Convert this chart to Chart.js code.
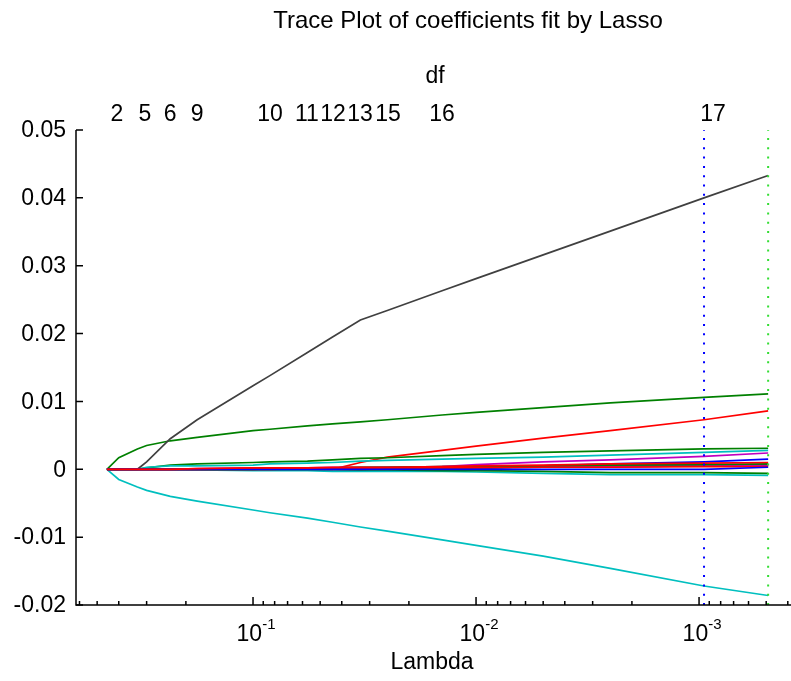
<!DOCTYPE html>
<html>
<head>
<meta charset="utf-8">
<title>Trace Plot of coefficients fit by Lasso</title>
<script src="https://cdn.jsdelivr.net/npm/chart.js@4.4.1/dist/chart.umd.min.js"></script>
<style>
  html, body { margin: 0; padding: 0; background: #fff; }
  #traceChart { display: block; }
</style>
</head>
<body>
<canvas id="traceChart" width="791" height="681"></canvas>
<script>
// lambda values along the lasso path (largest first)
const lambdas = [0.452, 0.40, 0.33, 0.30, 0.235, 0.178, 0.1, 0.084, 0.057, 0.044, 0.033, 0.025, 0.0142, 0.01, 0.005, 0.0025, 0.00095, 0.00049];

// coefficient traces, one per predictor
const coefGreenBig = [0, 0.0017, 0.0030, 0.0035, 0.0042, 0.0047, 0.0057, 0.0059, 0.0064, 0.0067, 0.0070, 0.0073, 0.0080, 0.0084, 0.0091, 0.0098, 0.0106, 0.0111];
const coefCyanBig  = [0, -0.0015, -0.0026, -0.0031, -0.0040, -0.0047, -0.0060, -0.0064, -0.0072, -0.0078, -0.0085, -0.0091, -0.0104, -0.0112, -0.0128, -0.0146, -0.0172, -0.0186];
const coefGrayBig  = [0, 0, 0, 0.0011, 0.0045, 0.0073, 0.0123, 0.0138, 0.0172, 0.0195, 0.0220, 0.0234, 0.0263, 0.0281, 0.0316, 0.0351, 0.0400, 0.0433];
const coefRedBig   = [0, 0, 0, 0, 0, 0, 0, 0, 0, 0, 0.0010, 0.0018, 0.0028, 0.0034, 0.0046, 0.0057, 0.0073, 0.0086];
const coefGreenA   = [0, 0, 0, 0.0002, 0.0006, 0.0008, 0.0010, 0.0011, 0.0012, 0.0014, 0.0016, 0.0017, 0.0020, 0.0022, 0.0025, 0.0027, 0.0030, 0.0031];
const coefCyanB    = [0, 0, 0, 0.0003, 0.0005, 0.0005, 0.0006, 0.0008, 0.0009, 0.0010, 0.0012, 0.0013, 0.0015, 0.0016, 0.0018, 0.0021, 0.0025, 0.0028];
const coefCyanNeg  = [0, 0, 0, 0, 0, -0.0001, -0.0002, -0.0002, -0.0002, -0.0003, -0.0003, -0.0003, -0.0003, -0.0004, -0.0006, -0.0008, -0.0008, -0.0009];
const coefMagentaL = [0, 0, 0, 0, 0, 0.0001, 0.0002, 0.0002, 0.0002, 0.0003, 0.0003, 0.0003, 0.0004, 0.0004, 0.0005, 0.0006, 0.0007, 0.0007];
const coefRedC     = [0, 0, 0, 0, 0, 0.0001, 0.0002, 0.0002, 0.0002, 0.0003, 0.0003, 0.0003, 0.0004, 0.0005, 0.0006, 0.0008, 0.0009, 0.0010];
const coefMagentaF = [0, 0, 0, 0, 0, 0, 0.0001, 0.0001, 0.0002, 0.0002, 0.0002, 0.0003, 0.0003, 0.0003, 0.0004, 0.0004, 0.0005, 0.0005];
const coefGreenJ   = [0, 0, 0, 0, 0, 0, 0, 0.0001, 0.0002, 0.0002, 0.0003, 0.0003, 0.0004, 0.0004, 0.0005, 0.0006, 0.0007, 0.0008];
const coefRedK     = [0, 0, 0, 0, 0, 0, 0, 0, 0.0001, 0.0001, 0.0001, 0.0002, 0.0002, 0.0002, 0.0003, 0.0003, 0.0004, 0.0004];
const coefGreenNeg = [0, 0, 0, 0, 0, 0, 0, 0, 0, 0, -0.0001, -0.0001, -0.0002, -0.0002, -0.0003, -0.0005, -0.0005, -0.0006];
const coefGrayI    = [0, 0, 0, 0, 0, 0, 0, 0, 0, 0, 0, 0.0001, 0.0001, 0.0002, 0.0003, 0.0004, 0.0005, 0.0006];
const coefMagentaD = [0, 0, 0, 0, 0, 0, 0, 0, 0, 0, 0, 0.0001, 0.0004, 0.0007, 0.0011, 0.0014, 0.0019, 0.0024];
const coefBlueE    = [0, 0, 0, 0, 0, 0, 0, 0, 0, 0, 0, 0, 0, 0.0001, 0.0005, 0.0008, 0.0011, 0.0015];
const coefBlueM    = [0, 0, 0, 0, 0, 0, 0, 0, 0, 0, 0, 0, 0, 0, 0, 0, 0, 0.0003];

// cross-validation lambdas (dotted lines)
const lambda1SE = 0.00095;
const lambdaMinMSE = 0.00049;

// degrees of freedom on the top axis
const dfLabels  = ['2', '5', '6', '9', '10', '11', '12', '13', '15', '16', '17'];
const dfLambdas = [0.408, 0.305, 0.2355, 0.178, 0.0839, 0.0573, 0.0438, 0.0331, 0.0248, 0.0142, 0.000865];

// axis ticks
const yTicks = [0.05, 0.04, 0.03, 0.02, 0.01, 0, -0.01, -0.02];
const yTickLabels = ['0.05', '0.04', '0.03', '0.02', '0.01', '0', '-0.01', '-0.02'];
const xMajorTicks = [0.1, 0.01, 0.001];
const xExponents = ['-1', '-2', '-3'];

const X_MIN = 3.87e-4, X_MAX = 0.622;
const FONT = '"Liberation Sans", Arial, sans-serif';

function trace(values, color) {
  return {
    data: lambdas.map((l, i) => ({x: l, y: values[i]})),
    borderColor: color,
    borderWidth: 1.7,
    pointRadius: 0,
    fill: false,
    tension: 0
  };
}

function vline(lambda, color) {
  return {
    data: [{x: lambda, y: -0.02}, {x: lambda, y: 0.05}],
    borderColor: color,
    borderWidth: 2,
    borderDash: [2, 7.3],
    pointRadius: 0,
    fill: false
  };
}

// draws the matlab-style axes, ticks and text
const matlabAxes = {
  id: 'matlabAxes',
  afterDraw(chart) {
    const ctx = chart.ctx;
    const xs = chart.scales.x;
    const ys = chart.scales.y;
    const area = chart.chartArea;
    ctx.save();
    ctx.strokeStyle = '#000';
    ctx.lineWidth = 1.5;

    ctx.beginPath();
    ctx.moveTo(area.left, area.top);
    ctx.lineTo(area.left, area.bottom);
    ctx.lineTo(area.right, area.bottom);
    ctx.stroke();

    // y ticks
    ctx.beginPath();
    yTicks.forEach(v => {
      const py = ys.getPixelForValue(v);
      ctx.moveTo(area.left, py);
      ctx.lineTo(area.left + 7, py);
    });
    // x ticks, major and minor
    xMajorTicks.forEach(v => {
      const px = xs.getPixelForValue(v);
      ctx.moveTo(px, area.bottom);
      ctx.lineTo(px, area.bottom - 8);
    });
    for (let d = -4; d <= -1; d++) {
      for (let m = 2; m <= 9; m++) {
        const v = m * Math.pow(10, d);
        if (v < X_MIN || v > X_MAX) continue;
        const px = xs.getPixelForValue(v);
        ctx.moveTo(px, area.bottom);
        ctx.lineTo(px, area.bottom - 4);
      }
    }
    ctx.stroke();

    ctx.fillStyle = '#000';
    ctx.font = '23px ' + FONT;

    // y tick labels
    ctx.textAlign = 'right';
    ctx.textBaseline = 'middle';
    yTicks.forEach((v, i) => {
      ctx.fillText(yTickLabels[i], area.left - 10, ys.getPixelForValue(v) + 1);
    });

    // x tick labels as 10 with exponent
    xMajorTicks.forEach((v, i) => {
      const px = xs.getPixelForValue(v);
      ctx.font = '23px ' + FONT;
      const wBase = ctx.measureText('10').width;
      ctx.font = '15px ' + FONT;
      const wExp = ctx.measureText(xExponents[i]).width;
      const left = px - (wBase + wExp) / 2 + 3;
      ctx.textAlign = 'left';
      ctx.textBaseline = 'alphabetic';
      ctx.font = '23px ' + FONT;
      ctx.fillText('10', left, 641);
      ctx.font = '15px ' + FONT;
      ctx.fillText(xExponents[i], left + wBase, 629);
    });

    ctx.font = '23px ' + FONT;
    ctx.textAlign = 'center';
    ctx.textBaseline = 'alphabetic';
    ctx.fillText('Lambda', 432, 669);

    // top axis: degrees of freedom
    dfLambdas.forEach((v, i) => {
      ctx.fillText(dfLabels[i], xs.getPixelForValue(v), 121);
    });
    ctx.fillText('df', 435, 83);
    ctx.font = '24px ' + FONT;
    ctx.fillText('Trace Plot of coefficients fit by Lasso', 468, 28);
    ctx.restore();
  }
};

const ctx = document.getElementById('traceChart').getContext('2d');
const traceChart = new Chart(ctx, {
  type: 'line',
  data: {
    datasets: [
      vline(lambda1SE, '#0000ff'),
      vline(lambdaMinMSE, '#33dd33'),
      trace(coefRedC, '#ff0000'),
      trace(coefBlueM, '#0000ff'),
      trace(coefRedK, '#ff0000'),
      trace(coefGreenJ, '#008000'),
      trace(coefMagentaF, '#bf00bf'),
      trace(coefGrayI, '#404040'),
      trace(coefGreenNeg, '#008000'),
      trace(coefCyanNeg, '#00bfbf'),
      trace(coefBlueE, '#0000ff'),
      trace(coefMagentaD, '#bf00bf'),
      trace(coefMagentaL, '#bf00bf'),
      trace(coefCyanB, '#00bfbf'),
      trace(coefGreenA, '#008000'),
      trace(coefRedBig, '#ff0000'),
      trace(coefGrayBig, '#404040'),
      trace(coefCyanBig, '#00bfbf'),
      trace(coefGreenBig, '#008000')
    ]
  },
  options: {
    responsive: false,
    devicePixelRatio: 1,
    animation: false,
    layout: {padding: {left: 76, top: 130, right: 0, bottom: 76}},
    scales: {
      x: {type: 'logarithmic', reverse: true, min: X_MIN, max: X_MAX, display: false},
      y: {type: 'linear', min: -0.02, max: 0.05, display: false}
    },
    plugins: {
      legend: {display: false},
      tooltip: {enabled: false}
    }
  },
  plugins: [matlabAxes]
});
</script>
</body>
</html>
